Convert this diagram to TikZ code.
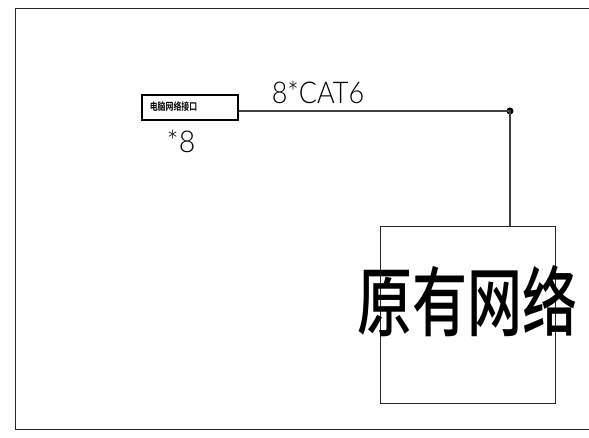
\documentclass[tikz,border=0pt]{standalone}
\usepackage{fontspec}
\newfontfamily\cjk[BoldFont={Noto Sans CJK SC Medium}]{Noto Sans CJK SC}
\newfontfamily\cjkb[BoldFont={Noto Sans CJK SC Bold}]{Noto Sans CJK SC}
\newfontfamily\thinfont{Lato Light}
\tikzset{
  frameline/.style={draw=black!85,line width=0.9pt},
  wire/.style={draw=black!75,line width=1.2pt},
  portbox/.style={draw=black,line width=1.7pt,minimum width=96pt,minimum height=25pt,inner sep=0pt,fill=white},
  netbox/.style={draw=black!85,line width=1pt,minimum width=174.5pt,minimum height=177pt,inner sep=0pt},
  cadtext/.style={inner sep=0pt,font=\thinfont\fontsize{30}{30}\selectfont,text=black},
}
\begin{document}
\begin{tikzpicture}[x=1pt,y=-1pt]
\useasboundingbox (0,0) rectangle (589,438);
\fill[white] (0,0) rectangle (589,438);
\coordinate (ftr) at (589,8);
\coordinate (ftl) at (15.5,8);
\coordinate (fbl) at (15.5,429);
\coordinate (fbr) at (589,429);
\draw[frameline] (ftr) -- (ftl) -- (fbl) -- (fbr);
\node[portbox] (port) at (190,107.5) {};
\node[inner sep=0pt,yscale=1.3,font=\cjkb\bfseries\fontsize{7.9}{8}\selectfont] (portlabel) at (173.5,107) {电脑网络接口};
\node[netbox] (net) at (467.75,315) {};
\node[circle,fill=black,inner sep=0pt,minimum size=7pt] (dot) at (510,111) {};
\draw[wire] (port.east |- dot) -- (dot.center) -- (dot.center |- net.north);
\node[cadtext,xscale=0.9] (cable) at (318,92) {8*CAT6};
\node[cadtext,xscale=0.95] (count) at (181,141.5) {*8};
\node[inner sep=0pt,yscale=1.38,font=\cjk\bfseries\fontsize{55}{55}\selectfont] (netlabel) at (467.5,301) {原有网络};
\end{tikzpicture}
\end{document}
